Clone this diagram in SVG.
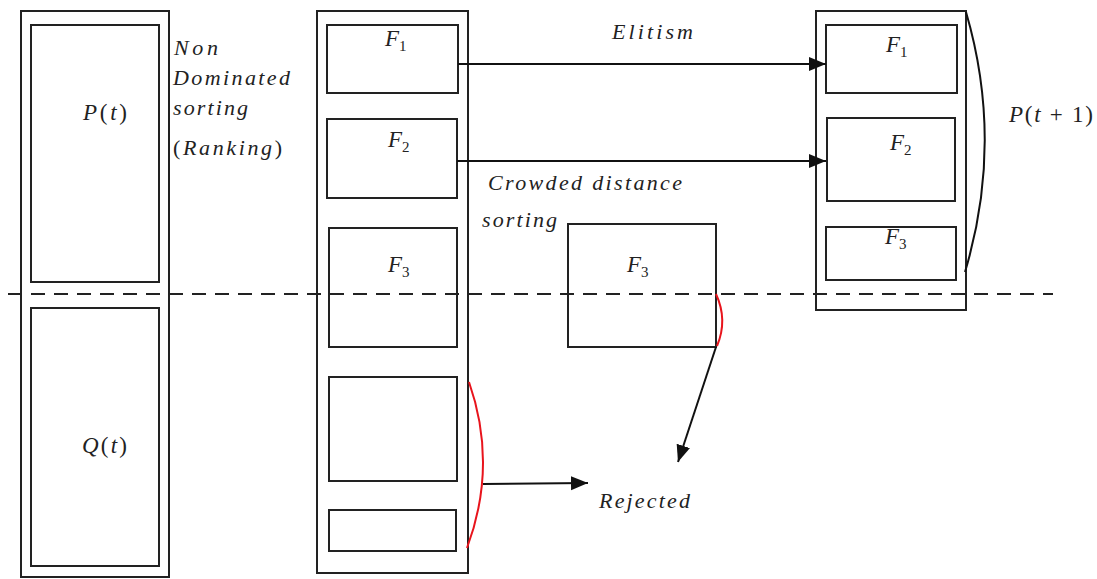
<svg xmlns="http://www.w3.org/2000/svg" width="1097" height="579" viewBox="0 0 1097 579">
<style>
.box{fill:none;stroke:#222;stroke-width:2}
.t{font-family:"Liberation Serif",serif;font-style:italic;font-size:22px;fill:#222}
.m{font-family:"Liberation Serif",serif;font-style:italic;font-size:23px;fill:#222}
.up{font-style:normal}
.sub{font-style:normal;font-size:15px}
.ln{fill:none;stroke:#111;stroke-width:2}
.red{fill:none;stroke:#e8141c;stroke-width:2}
</style>
<defs>
<marker id="ah" markerUnits="userSpaceOnUse" markerWidth="18" markerHeight="16" refX="17" refY="7" orient="auto">
<path d="M0,0 L17,7 L0,14 Z" fill="#111"/>
</marker>
</defs>
<rect width="1097" height="579" fill="#fff"/>
<line x1="8" y1="294" x2="1053" y2="294" stroke="#222" stroke-width="2" stroke-dasharray="14,9"/>
<g id="col-left">
<rect class="box" x="21" y="11" width="148" height="566"/>
<g id="P-t"><rect class="box" x="31" y="25" width="128" height="257"/>
<text class="m" x="83" y="120" textLength="44" lengthAdjust="spacing">P<tspan class="up">(</tspan>t<tspan class="up">)</tspan></text></g>
<g id="Q-t"><rect class="box" x="31" y="308" width="128" height="258"/>
<text class="m" x="82" y="453" textLength="45" lengthAdjust="spacing">Q<tspan class="up">(</tspan>t<tspan class="up">)</tspan></text></g>
</g>
<g id="label-nds">
<text class="t" x="174" y="55" textLength="44" lengthAdjust="spacing">Non</text>
<text class="t" x="173" y="85" textLength="117" lengthAdjust="spacing">Dominated</text>
<text class="t" x="173" y="115" textLength="75" lengthAdjust="spacing">sorting</text>
<text class="t" x="173" y="155" textLength="109" lengthAdjust="spacing"><tspan class="up">(</tspan>Ranking<tspan class="up">)</tspan></text>
</g>
<g id="col-mid">
<rect class="box" x="317" y="11" width="151" height="562"/>
<g id="mid-F1"><rect class="box" x="327" y="25" width="131" height="68"/>
<text class="m" x="385" y="46">F<tspan class="sub" dy="5">1</tspan></text></g>
<g id="mid-F2"><rect class="box" x="327" y="119" width="130" height="79"/>
<text class="m" x="388" y="147">F<tspan class="sub" dy="5">2</tspan></text></g>
<g id="mid-F3"><rect class="box" x="329" y="228" width="128" height="119"/>
<text class="m" x="388" y="272">F<tspan class="sub" dy="5">3</tspan></text></g>
<g id="mid-F4"><rect class="box" x="329" y="377" width="128" height="104"/></g>
<g id="mid-F5"><rect class="box" x="329" y="510" width="127" height="41"/></g>
</g>
<g id="crowd-F3">
<rect class="box" x="568" y="224" width="148" height="123"/>
<text class="m" x="627" y="272">F<tspan class="sub" dy="5">3</tspan></text>
</g>
<g id="col-right">
<rect class="box" x="816" y="11" width="150" height="299"/>
<g id="r-F1"><rect class="box" x="826" y="25" width="131" height="68"/>
<text class="m" x="886" y="52">F<tspan class="sub" dy="5">1</tspan></text></g>
<g id="r-F2"><rect class="box" x="827" y="118" width="128" height="83"/>
<text class="m" x="890" y="150">F<tspan class="sub" dy="5">2</tspan></text></g>
<g id="r-F3"><rect class="box" x="826" y="227" width="130" height="53"/>
<text class="m" x="885" y="244">F<tspan class="sub" dy="5">3</tspan></text></g>
</g>
<g id="labels">
<text class="t" x="612" y="39" textLength="81" lengthAdjust="spacing">Elitism</text>
<text class="t" x="488" y="190" textLength="194" lengthAdjust="spacing">Crowded  distance</text>
<text class="t" x="482" y="227" textLength="75" lengthAdjust="spacing">sorting</text>
<text class="t" x="599" y="508" textLength="91" lengthAdjust="spacing">Rejected</text>
<text class="m" x="1009" y="122" textLength="84" lengthAdjust="spacing">P<tspan class="up">(</tspan>t<tspan class="up"> + 1)</tspan></text>
</g>
<g id="connectors">
<line class="ln" x1="458" y1="64" x2="826" y2="64" marker-end="url(#ah)"/>
<line class="ln" x1="457" y1="161" x2="826" y2="161" marker-end="url(#ah)"/>
<line class="ln" x1="483" y1="484" x2="588" y2="483" marker-end="url(#ah)"/>
<line class="ln" x1="716" y1="347" x2="678" y2="462" marker-end="url(#ah)"/>
<path class="red" d="M469,382 Q498,465 467,548"/>
<path class="red" d="M716,294 Q728,320 717,346"/>
<path class="ln" d="M966,12 Q1004,142 965,272"/>
</g>
</svg>
